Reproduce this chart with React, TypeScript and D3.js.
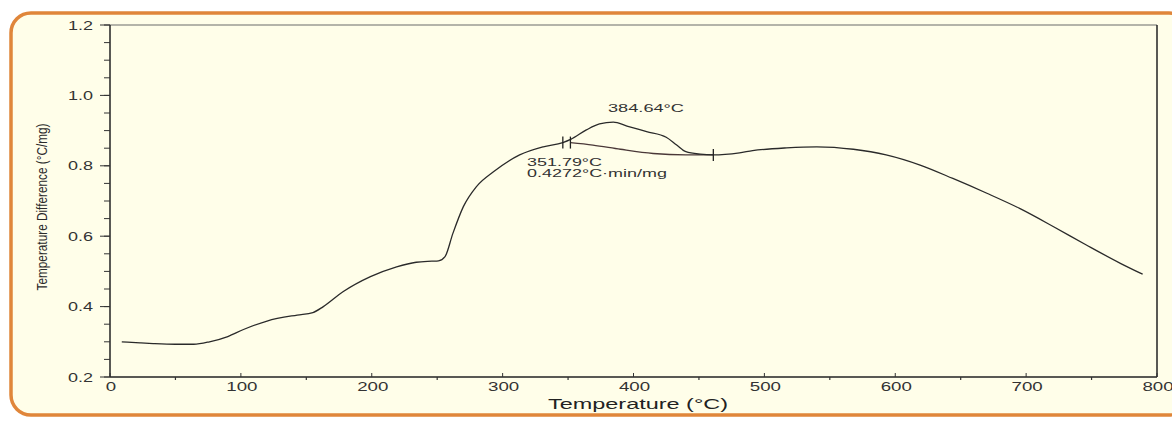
import React from 'react';
import * as d3 from 'd3';

// DTA curve
const curveT = [9, 23, 33, 50, 64, 76, 90, 102, 120, 143, 155, 163, 178, 199, 219, 234, 246, 251, 256, 262, 270, 280, 293, 313, 331, 346, 352, 364, 374, 384.6, 395, 410, 425, 433, 440, 451, 461, 481, 491, 517, 540, 568, 593, 619, 644, 670, 695, 721, 746, 772, 789];
const curveV = [0.300, 0.297, 0.295, 0.293, 0.293, 0.300, 0.315, 0.335, 0.359, 0.376, 0.383, 0.400, 0.442, 0.485, 0.513, 0.526, 0.529, 0.530, 0.542, 0.608, 0.684, 0.741, 0.783, 0.831, 0.854, 0.866, 0.875, 0.902, 0.919, 0.924, 0.913, 0.897, 0.881, 0.859, 0.840, 0.833, 0.831, 0.837, 0.843, 0.851, 0.854, 0.847, 0.831, 0.802, 0.764, 0.722, 0.679, 0.627, 0.575, 0.523, 0.492];

// integration baseline under the peak
const baseT = [351.8, 369, 390, 415, 440, 461];
const baseV = [0.866, 0.859, 0.847, 0.835, 0.831, 0.831];

const markerT = [346, 351.8, 461];
const xTicks = [0, 100, 200, 300, 400, 500, 600, 700, 800];
const yTicks = [0.2, 0.4, 0.6, 0.8, 1.0, 1.2];

const W = 1172;
const H = 421;
const margin = { top: 25, right: 15, bottom: 44, left: 110 };
const font = 'Liberation Sans, Arial, sans-serif';

export default function App() {
  const x = d3.scaleLinear().domain([0, 800]).range([margin.left, W - margin.right]);
  const y = d3.scaleLinear().domain([0.2, 1.2]).range([H - margin.bottom, margin.top]);
  const x0 = x(0), x1 = x(800), y0 = y(0.2), y1 = y(1.2);

  const line = d3.line<number>()
    .x(i => x(curveT[i]))
    .y(i => y(curveV[i]))
    .curve(d3.curveMonotoneX);
  const baseLine = d3.line<number>()
    .x(i => x(baseT[i]))
    .y(i => y(baseV[i]))
    .curve(d3.curveMonotoneX);

  const yMinor = d3.range(0.2, 1.2001, 0.05);
  const xMinor = d3.range(50, 800, 100);
  const interp = (t: number) => {
    const i = d3.bisectLeft(baseT, t);
    if (i <= 0) return baseV[0];
    if (i >= baseT.length) return baseV[baseV.length - 1];
    const f = (t - baseT[i - 1]) / (baseT[i] - baseT[i - 1]);
    return baseV[i - 1] + f * (baseV[i] - baseV[i - 1]);
  };

  // the source font is drawn wide, so stretch glyphs to the measured widths
  const wide = { fontFamily: font, fill: '#333', lengthAdjust: 'spacingAndGlyphs' as const };

  return (
    <svg width={W} height={H} style={{ position: 'absolute', left: 0, top: 0 }}>
      <rect x={0} y={0} width={W} height={H} fill="#ffffff" />
      <rect x={11} y={13} width={1178} height={402} rx={20} fill="#fffee9" stroke="#e0863a" strokeWidth={3.5} />

      {/* frame */}
      <line x1={x0} x2={x1} y1={y1} y2={y1} stroke="#6a6a6a" strokeWidth={1.2} />
      <line x1={x1} x2={x1} y1={y1} y2={y0} stroke="#222" strokeWidth={1.5} />
      <line x1={x0} x2={x0} y1={y1} y2={y0} stroke="#222" strokeWidth={1.5} />
      <line x1={x0} x2={x1} y1={y0} y2={y0} stroke="#222" strokeWidth={1.5} />

      {yMinor.map((v, i) => (
        <line key={'ym' + i} x1={x0 - 6} x2={x0} y1={y(v)} y2={y(v)} stroke="#333" strokeWidth={1} />
      ))}
      {yTicks.map(v => (
        <g key={'y' + v}>
          <line x1={x0 - 10} x2={x0} y1={y(v)} y2={y(v)} stroke="#333" strokeWidth={1} />
          <text x={x0 - 42} y={y(v) + 4.5} fontSize={12} textLength={25} {...wide}>
            {v.toFixed(1)}
          </text>
        </g>
      ))}

      {xMinor.map(v => (
        <line key={'xm' + v} x1={x(v)} x2={x(v)} y1={y0} y2={y0 + 3} stroke="#333" strokeWidth={1.2} />
      ))}
      {xTicks.map(v => {
        const w = String(v).length * 10.4;
        return (
          <g key={'x' + v}>
            <line x1={x(v)} x2={x(v)} y1={y0 - 4} y2={y0} stroke="#333" strokeWidth={1} />
            <text x={x(v) - w / 2 + 1} y={y0 + 14} fontSize={12} textLength={w} {...wide}>
              {v}
            </text>
          </g>
        );
      })}

      <text x={548} y={409} fontSize={15} textLength={180} {...wide} fill="#222">
        Temperature (°C)
      </text>
      <text
        transform={`translate(47,${(y0 + y1) / 2 + 6}) rotate(-90)`}
        textAnchor="middle"
        fontFamily="Liberation Sans Narrow, Arial Narrow, sans-serif"
        fontSize={14.5}
        fill="#2a2a2a"
        textLength={167}
        lengthAdjust="spacingAndGlyphs"
      >
        Temperature Difference (°C/mg)
      </text>

      <path d={baseLine(d3.range(baseT.length)) || ''} fill="none" stroke="#4a3838" strokeWidth={1.3} />
      <path d={line(d3.range(curveT.length)) || ''} fill="none" stroke="#2a2a2a" strokeWidth={1.3} />

      {markerT.map(t => (
        <line key={'mk' + t} x1={x(t)} x2={x(t)} y1={y(interp(t)) - 6} y2={y(interp(t)) + 6} stroke="#222" strokeWidth={1.3} />
      ))}

      <text x={608} y={112} fontSize={11.5} textLength={76} {...wide}>
        384.64°C
      </text>
      <text x={527} y={166} fontSize={10.5} textLength={75} {...wide}>
        351.79°C
      </text>
      <text x={527} y={177} fontSize={10.5} textLength={140} {...wide}>
        0.4272°C·min/mg
      </text>
    </svg>
  );
}
